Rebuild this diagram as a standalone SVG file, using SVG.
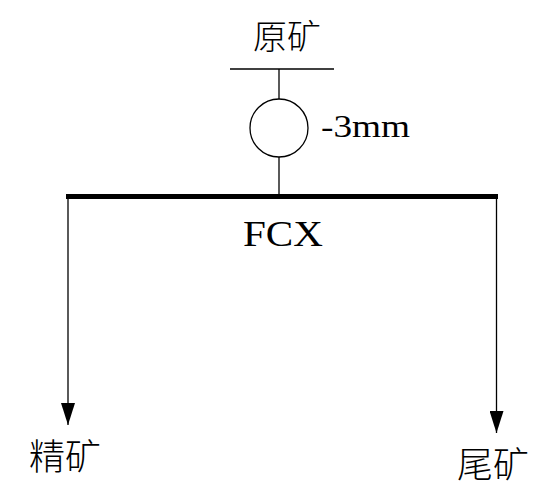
<svg xmlns="http://www.w3.org/2000/svg" width="550" height="492" viewBox="0 0 550 492">
<style>
.ln{stroke:#000;stroke-width:1.3;fill:none}
.lat{font-family:"Liberation Serif","Times New Roman",serif;fill:#000}
.cjk{font-family:"Noto Sans CJK SC","Noto Sans CJK JP",sans-serif;fill:#000;font-weight:300}
</style>
<defs>
<marker id="ah" markerWidth="22" markerHeight="14" refX="22" refY="7" orient="auto" markerUnits="userSpaceOnUse" viewBox="0 0 22 14">
<path d="M0,0 L22,7 L0,14 Z" fill="#000"/>
</marker>
</defs>
<rect width="550" height="492" fill="#fff"/>
<g id="feed">
<text class="cjk" x="287" y="49" font-size="34" text-anchor="middle">原矿</text>
<line class="ln" x1="230" y1="69" x2="334" y2="69"/>
</g>
<g id="screen">
<circle class="ln" cx="279" cy="128" r="29"/>
<text class="lat" x="321" y="137" font-size="31" textLength="89" lengthAdjust="spacingAndGlyphs">-3mm</text>
</g>
<g id="fcx">
<line x1="66" y1="196.5" x2="498" y2="196.5" stroke="#000" stroke-width="5"/>
<text class="lat" x="243" y="246" font-size="35" textLength="80" lengthAdjust="spacingAndGlyphs">FCX</text>
</g>
<g id="concentrate">
<text class="cjk" x="65" y="470" font-size="36" text-anchor="middle">精矿</text>
</g>
<g id="tailings">
<text class="cjk" x="493" y="478" font-size="36" text-anchor="middle">尾矿</text>
</g>
<g id="connectors">
<line class="ln" x1="279" y1="69" x2="279" y2="99"/>
<line class="ln" x1="279" y1="157" x2="279" y2="195"/>
<line class="ln" x1="68" y1="196" x2="68" y2="425" marker-end="url(#ah)"/>
<line class="ln" x1="496.5" y1="196" x2="496.5" y2="433" marker-end="url(#ah)"/>
</g>
</svg>
